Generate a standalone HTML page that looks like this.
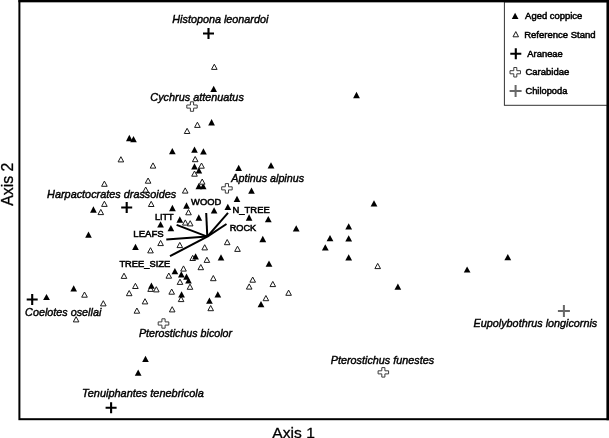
<!DOCTYPE html>
<html><head><meta charset="utf-8"><title>Ordination plot</title>
<style>
html,body{margin:0;padding:0;background:#fff;}
body{width:609px;height:438px;overflow:hidden;}
svg{display:block;}
text{font-family:"Liberation Sans",Arial,Helvetica,sans-serif;fill:#000;}
.sp{font-style:italic;font-size:10.8px;stroke:#000;stroke-width:0.42px;}
.vl{font-size:9.6px;stroke:#000;stroke-width:0.55px;}
.lg{font-size:9.4px;stroke:#000;stroke-width:0.5px;}
.ax{font-size:15.5px;stroke:#000;stroke-width:0.3px;}
.ft{fill:#000;stroke:none;}
.ot{fill:#fff;stroke:#1a1a1a;stroke-width:1;stroke-linejoin:miter;}
.ar{stroke:#000;stroke-width:2.1;fill:none;}
.ch{stroke:#686868;stroke-width:2;fill:none;}
.cb{fill:#fff;stroke:#3c3c3c;stroke-width:1;stroke-linejoin:round;}
.vec{stroke:#000;stroke-width:2;stroke-linecap:butt;}
</style></head><body>
<svg width="609" height="438" viewBox="0 0 609 438">
<rect x="0" y="0" width="609" height="438" fill="#fff"/>
<rect x="19.4" y="1.1" width="588.4" height="418.1" fill="none" stroke="#000" stroke-width="2"/>
<rect x="504.4" y="2" width="103" height="103.3" fill="#fff" stroke="#333" stroke-width="1"/>
<line x1="607.8" y1="0" x2="607.8" y2="420.2" stroke="#000" stroke-width="2.6"/>
<line x1="18.4" y1="1.1" x2="609" y2="1.1" stroke="#000" stroke-width="2.2"/>
<line class="vec" x1="207.3" y1="236.6" x2="206.2" y2="213.0"/>
<line class="vec" x1="207.3" y1="236.6" x2="228.0" y2="212.9"/>
<line class="vec" x1="207.3" y1="236.6" x2="226.5" y2="224.0"/>
<line class="vec" x1="207.3" y1="236.6" x2="176.6" y2="224.9"/>
<line class="vec" x1="207.3" y1="236.6" x2="166.3" y2="239.5"/>
<line class="vec" x1="207.3" y1="236.6" x2="170.0" y2="256.2"/>
<polygon class="ot" points="214.3,64.2 217.1,69.4 211.5,69.4"/>
<polygon class="ot" points="197.4,122.2 200.2,127.4 194.6,127.4"/>
<polygon class="ot" points="187.1,128.3 189.9,133.5 184.3,133.5"/>
<polygon class="ot" points="120.9,156.7 123.7,161.9 118.1,161.9"/>
<polygon class="ot" points="195.2,156.5 198.0,161.7 192.4,161.7"/>
<polygon class="ot" points="153.0,162.9 155.8,168.1 150.2,168.1"/>
<polygon class="ot" points="201.5,163.0 204.3,168.2 198.7,168.2"/>
<polygon class="ot" points="194.5,171.0 197.3,176.2 191.7,176.2"/>
<polygon class="ot" points="148.1,178.0 150.9,183.2 145.3,183.2"/>
<polygon class="ot" points="104.4,181.1 107.2,186.3 101.6,186.3"/>
<polygon class="ot" points="145.7,187.0 148.5,192.2 142.9,192.2"/>
<polygon class="ot" points="185.2,187.9 188.0,193.1 182.4,193.1"/>
<polygon class="ot" points="104.4,201.2 107.2,206.4 101.6,206.4"/>
<polygon class="ot" points="151.2,201.3 154.0,206.5 148.4,206.5"/>
<polygon class="ot" points="227.2,239.5 230.0,244.7 224.4,244.7"/>
<polygon class="ot" points="204.7,244.7 207.5,249.9 201.9,249.9"/>
<polygon class="ot" points="237.5,246.2 240.3,251.4 234.7,251.4"/>
<polygon class="ot" points="206.9,257.2 209.7,262.4 204.1,262.4"/>
<polygon class="ot" points="188.5,209.6 191.3,214.8 185.7,214.8"/>
<polygon class="ot" points="185.3,219.9 188.1,225.1 182.5,225.1"/>
<polygon class="ot" points="190.2,220.7 193.0,225.9 187.4,225.9"/>
<polygon class="ot" points="160.6,240.4 163.4,245.6 157.8,245.6"/>
<polygon class="ot" points="179.8,242.4 182.6,247.6 177.0,247.6"/>
<polygon class="ot" points="150.5,247.7 153.3,252.9 147.7,252.9"/>
<polygon class="ot" points="192.7,255.3 195.5,260.5 189.9,260.5"/>
<polygon class="ot" points="200.8,264.5 203.6,269.7 198.0,269.7"/>
<polygon class="ot" points="183.5,265.9 186.3,271.1 180.7,271.1"/>
<polygon class="ot" points="124.0,273.2 126.8,278.4 121.2,278.4"/>
<polygon class="ot" points="168.8,273.0 171.6,278.2 166.0,278.2"/>
<polygon class="ot" points="213.3,275.5 216.1,280.7 210.5,280.7"/>
<polygon class="ot" points="252.7,277.0 255.5,282.2 249.9,282.2"/>
<polygon class="ot" points="180.0,279.2 182.8,284.4 177.2,284.4"/>
<polygon class="ot" points="135.4,283.3 138.2,288.5 132.6,288.5"/>
<polygon class="ot" points="150.6,286.2 153.4,291.4 147.8,291.4"/>
<polygon class="ot" points="156.3,286.7 159.1,291.9 153.5,291.9"/>
<polygon class="ot" points="190.0,284.1 192.8,289.3 187.2,289.3"/>
<polygon class="ot" points="249.2,283.9 252.0,289.1 246.4,289.1"/>
<polygon class="ot" points="171.7,289.0 174.5,294.2 168.9,294.2"/>
<polygon class="ot" points="129.2,290.5 132.0,295.7 126.4,295.7"/>
<polygon class="ot" points="181.1,296.4 183.9,301.6 178.3,301.6"/>
<polygon class="ot" points="145.0,298.7 147.8,303.9 142.2,303.9"/>
<polygon class="ot" points="210.7,305.5 213.5,310.7 207.9,310.7"/>
<polygon class="ot" points="172.2,306.7 175.0,311.9 169.4,311.9"/>
<polygon class="ot" points="136.9,308.0 139.7,313.2 134.1,313.2"/>
<polygon class="ot" points="100.8,209.4 103.6,214.6 98.0,214.6"/>
<polygon class="ot" points="84.5,292.0 87.3,297.2 81.7,297.2"/>
<polygon class="ot" points="103.3,300.7 106.1,305.9 100.5,305.9"/>
<polygon class="ot" points="76.1,316.7 78.9,321.9 73.3,321.9"/>
<polygon class="ot" points="377.7,263.4 380.5,268.6 374.9,268.6"/>
<polygon class="ot" points="272.8,281.4 275.6,286.6 270.0,286.6"/>
<polygon class="ot" points="288.6,290.1 291.4,295.3 285.8,295.3"/>
<polygon class="ot" points="265.9,295.5 268.7,300.7 263.1,300.7"/>
<polygon class="ft" points="213.7,85.8 217.0,92.1 210.3,92.1"/>
<polygon class="ft" points="211.6,119.1 214.9,125.5 208.2,125.5"/>
<polygon class="ft" points="129.3,134.8 132.7,141.2 126.0,141.2"/>
<polygon class="ft" points="133.5,136.0 136.8,142.3 130.2,142.3"/>
<polygon class="ft" points="172.3,147.9 175.7,154.2 169.0,154.2"/>
<polygon class="ft" points="194.5,146.4 197.8,152.8 191.2,152.8"/>
<polygon class="ft" points="203.4,148.2 206.8,154.5 200.1,154.5"/>
<polygon class="ft" points="194.5,163.2 197.8,169.6 191.2,169.6"/>
<polygon class="ft" points="198.9,167.2 202.2,173.5 195.6,173.5"/>
<polygon class="ft" points="198.8,183.0 202.2,189.3 195.5,189.3"/>
<polygon class="ft" points="203.2,183.0 206.5,189.3 199.8,189.3"/>
<polygon class="ft" points="238.7,164.7 242.0,171.0 235.3,171.0"/>
<polygon class="ft" points="271.0,162.2 274.4,168.5 267.6,168.5"/>
<polygon class="ft" points="251.5,187.5 254.8,193.8 248.2,193.8"/>
<polygon class="ft" points="237.0,195.7 240.3,202.0 233.7,202.0"/>
<polygon class="ft" points="227.8,203.7 231.2,210.0 224.5,210.0"/>
<polygon class="ft" points="214.1,207.2 217.4,213.6 210.8,213.6"/>
<polygon class="ft" points="249.1,214.3 252.4,220.7 245.8,220.7"/>
<polygon class="ft" points="268.3,216.0 271.7,222.3 264.9,222.3"/>
<polygon class="ft" points="296.2,225.2 299.6,231.5 292.8,231.5"/>
<polygon class="ft" points="348.7,223.2 352.1,229.5 345.3,229.5"/>
<polygon class="ft" points="262.8,235.8 266.2,242.2 259.4,242.2"/>
<polygon class="ft" points="330.0,234.9 333.4,241.2 326.6,241.2"/>
<polygon class="ft" points="348.7,235.2 352.1,241.5 345.3,241.5"/>
<polygon class="ft" points="325.3,244.2 328.7,250.6 321.9,250.6"/>
<polygon class="ft" points="221.0,254.3 224.3,260.6 217.7,260.6"/>
<polygon class="ft" points="269.0,260.6 272.4,266.8 265.6,266.8"/>
<polygon class="ft" points="348.7,254.2 352.1,260.5 345.3,260.5"/>
<polygon class="ft" points="172.4,204.8 175.8,211.2 169.1,211.2"/>
<polygon class="ft" points="186.5,202.3 189.8,208.7 183.2,208.7"/>
<polygon class="ft" points="198.8,214.3 202.2,220.7 195.5,220.7"/>
<polygon class="ft" points="179.8,216.3 183.2,222.7 176.5,222.7"/>
<polygon class="ft" points="160.6,221.2 163.9,227.6 157.2,227.6"/>
<polygon class="ft" points="170.9,224.9 174.2,231.2 167.6,231.2"/>
<polygon class="ft" points="135.5,243.7 138.8,250.0 132.2,250.0"/>
<polygon class="ft" points="195.6,253.2 198.9,259.4 192.2,259.4"/>
<polygon class="ft" points="174.9,268.0 178.2,274.2 171.6,274.2"/>
<polygon class="ft" points="181.3,271.2 184.7,277.4 178.0,277.4"/>
<polygon class="ft" points="186.5,273.5 189.8,279.8 183.2,279.8"/>
<polygon class="ft" points="188.5,277.4 191.8,283.6 185.2,283.6"/>
<polygon class="ft" points="151.4,282.5 154.8,288.8 148.1,288.8"/>
<polygon class="ft" points="181.6,291.2 184.9,297.5 178.2,297.5"/>
<polygon class="ft" points="217.8,291.2 221.2,297.5 214.5,297.5"/>
<polygon class="ft" points="209.4,297.5 212.8,303.8 206.1,303.8"/>
<polygon class="ft" points="261.0,301.1 264.4,307.3 257.6,307.3"/>
<polygon class="ft" points="93.4,206.3 96.8,212.7 90.1,212.7"/>
<polygon class="ft" points="88.5,231.4 91.8,237.8 85.2,237.8"/>
<polygon class="ft" points="73.7,285.2 77.0,291.5 70.4,291.5"/>
<polygon class="ft" points="46.5,293.9 49.9,300.1 43.1,300.1"/>
<polygon class="ft" points="145.5,355.7 148.8,361.9 142.2,361.9"/>
<polygon class="ft" points="138.2,369.6 141.5,375.8 134.8,375.8"/>
<polygon class="ft" points="374.0,200.2 377.4,206.6 370.6,206.6"/>
<polygon class="ft" points="356.5,91.8 359.9,98.2 353.1,98.2"/>
<polygon class="ft" points="397.9,283.5 401.2,289.8 394.5,289.8"/>
<polygon class="ft" points="467.1,266.4 470.5,272.6 463.8,272.6"/>
<polygon class="ft" points="507.8,254.0 511.2,260.2 504.4,260.2"/>
<polygon class="ot" points="202.2,179.0 205.0,184.2 199.4,184.2"/>
<path class="ar" d="M203.0 33.5H214.0M208.5 28.0V39.0"/>
<path class="ar" d="M121.2 207.5H132.2M126.7 202.0V213.0"/>
<path class="ar" d="M26.7 299.5H37.7M32.2 294.0V305.0"/>
<path class="ar" d="M105.6 407.7H116.6M111.1 402.2V413.2"/>
<path class="ch" d="M557.9 311.1H569.9M563.9 305.1V317.1"/>
<path class="cb" d="M190.4 101.8 L193.6 101.8 L193.6 105.0 L197.2 105.0 L197.2 108.1 L193.6 108.1 L193.6 111.3 L190.4 111.3 L190.4 108.1 L186.8 108.1 L186.8 105.0 L190.4 105.0Z"/>
<path class="cb" d="M225.3 183.6 L228.5 183.6 L228.5 186.8 L232.2 186.8 L232.2 189.9 L228.5 189.9 L228.5 193.1 L225.3 193.1 L225.3 189.9 L221.7 189.9 L221.7 186.8 L225.3 186.8Z"/>
<path class="cb" d="M161.9 318.8 L165.1 318.8 L165.1 321.9 L168.8 321.9 L168.8 325.1 L165.1 325.1 L165.1 328.2 L161.9 328.2 L161.9 325.1 L158.2 325.1 L158.2 321.9 L161.9 321.9Z"/>
<path class="cb" d="M381.8 367.6 L384.9 367.6 L384.9 370.8 L388.6 370.8 L388.6 373.9 L384.9 373.9 L384.9 377.1 L381.8 377.1 L381.8 373.9 L378.1 373.9 L378.1 370.8 L381.8 370.8Z"/>
<text class="sp" x="172.3" y="22.9" textLength="96.07" lengthAdjust="spacingAndGlyphs">Histopona leonardoi</text>
<text class="sp" x="150.3" y="101.2" textLength="93.55" lengthAdjust="spacingAndGlyphs">Cychrus attenuatus</text>
<text class="sp" x="231.29" y="182.2" textLength="72.75" lengthAdjust="spacingAndGlyphs">Aptinus alpinus</text>
<text class="sp" x="47.1" y="198.4" textLength="129.16" lengthAdjust="spacingAndGlyphs">Harpactocrates drassoides</text>
<text class="sp" x="25.1" y="316.3" textLength="76.24" lengthAdjust="spacingAndGlyphs">Coelotes osellai</text>
<text class="sp" x="138.9" y="337.0" textLength="93.15" lengthAdjust="spacingAndGlyphs">Pterostichus bicolor</text>
<text class="sp" x="82.09" y="397.0" textLength="121.71" lengthAdjust="spacingAndGlyphs">Tenuiphantes tenebricola</text>
<text class="sp" x="330.8" y="363.7" textLength="103.25" lengthAdjust="spacingAndGlyphs">Pterostichus funestes</text>
<text class="sp" x="473.6" y="326.9" textLength="123.67" lengthAdjust="spacingAndGlyphs">Eupolybothrus longicornis</text>
<text class="vl" x="191.09" y="205.3" textLength="30.13" lengthAdjust="spacingAndGlyphs">WOOD</text>
<text class="vl" x="232.51" y="212.7" textLength="37.26" lengthAdjust="spacingAndGlyphs">N_TREE</text>
<text class="vl" x="229.63" y="230.6" textLength="26.53" lengthAdjust="spacingAndGlyphs">ROCK</text>
<text class="vl" x="155.03" y="220.0" textLength="18.6" lengthAdjust="spacingAndGlyphs">LITT</text>
<text class="vl" x="133.3" y="237.3" textLength="30.41" lengthAdjust="spacingAndGlyphs">LEAFS</text>
<text class="vl" x="119.4" y="267.4" textLength="50.77" lengthAdjust="spacingAndGlyphs">TREE_SIZE</text>
<polygon class="ft" points="515.1,12.7 518.5,18.9 511.8,18.9"/>
<polygon class="ot" points="515.8,31.6 518.5,36.8 513.0,36.8"/>
<path class="ar" d="M510.3 53.8H521.3M515.8 48.3V59.3"/>
<path class="cb" d="M513.8 67.5 L516.8 67.5 L516.8 70.7 L520.5 70.7 L520.5 73.8 L516.8 73.8 L516.8 77.0 L513.8 77.0 L513.8 73.8 L510.0 73.8 L510.0 70.7 L513.8 70.7Z"/>
<path class="ch" d="M509.6 90.9H521.6M515.6 84.9V96.9"/>
<text class="lg" x="525.1" y="19.4" textLength="57.27" lengthAdjust="spacingAndGlyphs">Aged coppice</text>
<text class="lg" x="524.19" y="37.6" textLength="71.46" lengthAdjust="spacingAndGlyphs">Reference Stand</text>
<text class="lg" x="527.3" y="57.3" textLength="35.54" lengthAdjust="spacingAndGlyphs">Araneae</text>
<text class="lg" x="525.4" y="74.8" textLength="43.88" lengthAdjust="spacingAndGlyphs">Carabidae</text>
<text class="lg" x="525.4" y="93.7" textLength="42.03" lengthAdjust="spacingAndGlyphs">Chilopoda</text>
<text class="ax" x="272.39" y="437.8" textLength="42.46" lengthAdjust="spacingAndGlyphs">Axis 1</text>
<text class="ax" style="font-size:16px" transform="translate(13.2,205.7) rotate(-90)" x="0" y="0" textLength="42.9" lengthAdjust="spacingAndGlyphs">Axis 2</text>
</svg>
</body></html>
